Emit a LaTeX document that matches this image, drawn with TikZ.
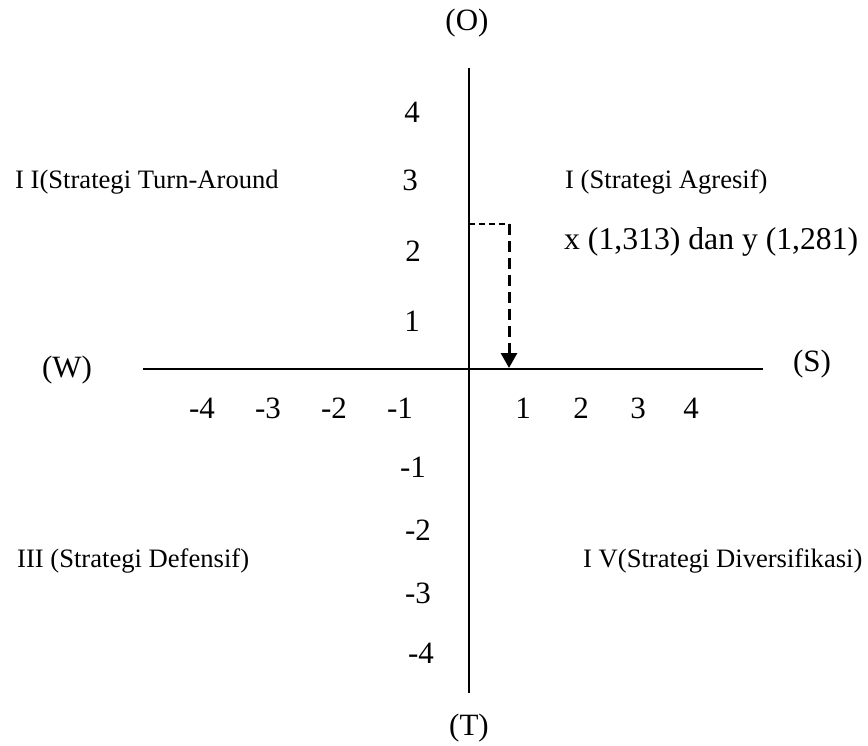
\documentclass[tikz,border=0pt]{standalone}
\usepackage{fontspec}
\setmainfont{Liberation Serif}
\usetikzlibrary{arrows.meta}
\begin{document}
\begin{tikzpicture}[x=1pt,y=-1pt,
  axis/.style={line width=1.6pt},
  lbl/.style={font=\fontsize{31}{36}\selectfont, inner sep=0pt},
  quad/.style={font=\fontsize{26.6}{32}\selectfont, inner sep=0pt, anchor=base west},
  guideh/.style={line width=2pt, dash pattern=on 6pt off 4pt},
  guidev/.style={line width=3pt, dash pattern=on 11pt off 6pt},
]
\fill[white] (0,0) rectangle (868,746);
\useasboundingbox (0,0) rectangle (868,746);

% axes
\coordinate (ytop) at (469,68);
\coordinate (ybot) at (469,693);
\coordinate (xleft) at (143,369);
\coordinate (xright) at (763,369);
\draw[axis] (ytop) -- (ybot);
\draw[axis] (xleft) -- (xright);

% axis end labels
\node[lbl, anchor=base] (O) at (467,31) {(O)};
\node[lbl, anchor=base] (T) at (469,735) {(T)};
\node[lbl, anchor=base] (W) at (67,377) {(W)};
\node[lbl, anchor=base] (S) at (812,371) {(S)};

% vertical scale
\node[lbl] (y4) at (412,112) {4};
\node[lbl] (y3) at (410,180) {3};
\node[lbl] (y2) at (413,251) {2};
\node[lbl] (y1) at (412,321) {1};
\node[lbl] (ym1) at (413,467) {-1};
\node[lbl] (ym2) at (418,530) {-2};
\node[lbl] (ym3) at (418,593) {-3};
\node[lbl] (ym4) at (421,653) {-4};

% horizontal scale
\node[lbl] (xm4) at (202,408) {-4};
\node[lbl] (xm3) at (268,408) {-3};
\node[lbl] (xm2) at (334,408) {-2};
\node[lbl] (xm1) at (400,408) {-1};
\node[lbl] (x1) at (523,408) {1};
\node[lbl] (x2) at (581,408) {2};
\node[lbl] (x3) at (638,408) {3};
\node[lbl] (x4) at (691,408) {4};

% quadrant labels
\node[quad] (q2) at (15,189) {I I(Strategi Turn-Around};
\node[quad] (q1) at (565,189) {I (Strategi Agresif)};
\node[quad] (q3) at (17,567) {III (Strategi Defensif)};
\node[quad] (q4) at (583,567) {I V(Strategi Diversifikasi)};
\node[lbl, anchor=base west, font=\fontsize{31.7}{36}\selectfont] (pt) at (564,250) {x (1,313) dan y (1,281)};

% position marker
\coordinate (gy) at (469,224);
\coordinate (gc) at (509,224);
\coordinate (gx) at (509,368);
\draw[guideh] (gy) -- (gc);
\draw[guidev, -{Triangle[width=16pt,length=15pt]}] (gc) -- (gx);
\end{tikzpicture}
\end{document}
